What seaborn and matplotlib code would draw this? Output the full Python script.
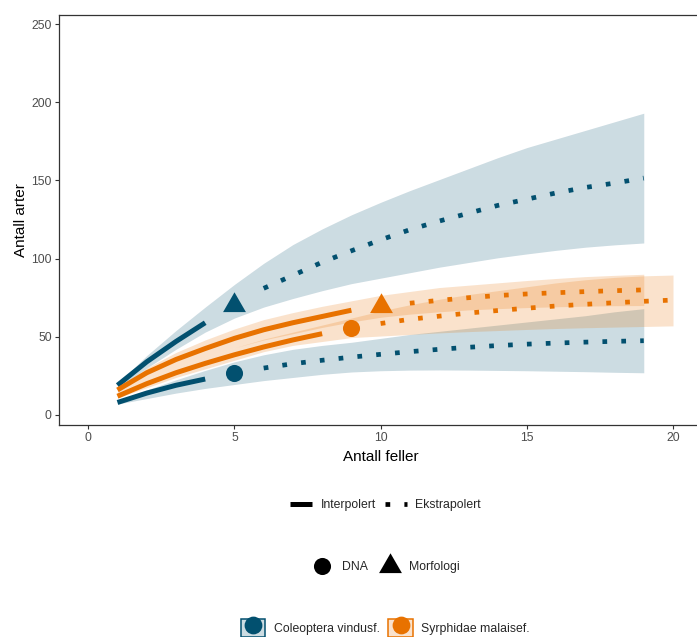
import numpy as np
import pandas as pd
import matplotlib
matplotlib.use("Agg")
import matplotlib.pyplot as plt
import seaborn as sns
from matplotlib.lines import Line2D
from matplotlib.patches import Patch
from matplotlib.path import Path
from matplotlib.legend_handler import HandlerTuple

# ---------------- data ----------------
groups = ["Coleoptera vindusf.", "Syrphidae malaisef."]
methods = ["DNA", "Morfologi"]
linetype_labels = ["Interpolert", "Ekstrapolert"]

# Coleoptera vindusf. - DNA
col_dna_x_interp = [1, 2, 3, 4]
col_dna_y_interp = [8, 14, 19, 23]
col_dna_x_ref = [5]
col_dna_y_ref = [26.6]
col_dna_x_extrap = [6, 7, 8, 9, 10, 11, 12, 13, 14, 15, 16, 17, 18, 19]
col_dna_y_extrap = [30, 32.8, 35, 37, 38.8, 40.5, 42, 43.3, 44.4, 45.3, 46, 46.6, 47.1, 47.5]
col_dna_x_band = list(range(1, 20))
col_dna_lo = [7, 10.5, 14, 17, 19.5, 22, 24, 26, 27.5, 28.3, 28.7, 28.8, 28.7, 28.5, 28.3, 28, 27.7, 27.3, 27]
col_dna_hi = [9, 16, 22.5, 28.5, 34, 38.5, 42, 44.5, 46.5, 49, 51.5, 53.5, 55.5, 57.5, 59.5, 61.5, 63.5, 66, 68]

# Coleoptera vindusf. - Morfologi
col_mor_x_interp = [1, 2, 3, 4]
col_mor_y_interp = [19, 34, 47, 59]
col_mor_x_ref = [5]
col_mor_y_ref = [70.3]
col_mor_x_extrap = [6, 7, 8, 9, 10, 11, 12, 13, 14, 15, 16, 17, 18, 19]
col_mor_y_extrap = [81, 89.3, 97.7, 105, 112, 118.5, 124, 129, 134, 138, 142, 145.5, 148.3, 151.5]
col_mor_x_band = list(range(1, 20))
col_mor_lo = [17, 30, 42, 53, 62, 69, 74.5, 79.5, 84, 87.5, 91, 94.5, 97.5, 100.5, 103, 105.3, 107.3, 108.8, 110]
col_mor_hi = [20, 38, 54, 69, 83.5, 97, 109, 119, 128, 136, 143.5, 150.5, 157.5, 164.5, 171, 176.5, 182, 187.5, 193]

# Syrphidae malaisef. - DNA
syr_dna_x_interp = [1, 2, 3, 4, 5, 6, 7, 8]
syr_dna_y_interp = [12, 20, 27, 33, 38.5, 43.5, 48, 52]
syr_dna_x_ref = [9]
syr_dna_y_ref = [55.4]
syr_dna_x_extrap = [10, 11, 12, 13, 14, 15, 16, 17, 18, 19, 20]
syr_dna_y_extrap = [58.5, 61.2, 63.2, 65.2, 66.8, 68.3, 69.7, 70.8, 71.8, 72.7, 73.5]
syr_dna_x_band = list(range(1, 21))
syr_dna_lo = [11, 17.5, 24, 29.5, 35, 40.5, 44.5, 47, 49.5, 50.5, 51.5, 52.5, 53.3, 54, 54.7, 55.3, 55.8, 56.2, 56.6, 57]
syr_dna_hi = [14, 23, 30.5, 37, 43, 48.5, 53, 57.5, 62, 66.5, 70.5, 74, 77, 79.5, 82, 84.5, 86.5, 88, 89, 89.5]

# Syrphidae malaisef. - Morfologi
syr_mor_x_interp = [1, 2, 3, 4, 5, 6, 7, 8, 9]
syr_mor_y_interp = [16, 27, 35.5, 42.5, 49, 54.5, 59, 63, 67]
syr_mor_x_ref = [10]
syr_mor_y_ref = [69.5]
syr_mor_x_extrap = [11, 12, 13, 14, 15, 16, 17, 18, 19]
syr_mor_y_extrap = [71.5, 73.3, 75, 76.4, 77.4, 78.2, 78.9, 79.5, 80]
syr_mor_x_band = list(range(1, 20))
syr_mor_lo = [14, 23, 30.5, 37, 43, 48, 52, 56, 59.5, 62.5, 64.5, 66, 67.2, 68, 68.7, 69.2, 69.6, 69.9, 70]
syr_mor_hi = [17, 30, 40, 48, 55, 61, 65.5, 69.5, 73, 76.5, 79, 81.5, 83, 84.5, 86, 87.3, 88.5, 89.3, 90]

x_ticks = [0, 5, 10, 15, 20]
y_ticks = [0, 50, 100, 150, 200, 250]

# ---------------- style ----------------
BLUE = "#02506F"
ORANGE = "#E87200"
colors = {groups[0]: BLUE, groups[1]: ORANGE}

sns.set_theme(style="white")
plt.rcParams['font.family'] = ['Liberation Sans', 'DejaVu Sans']

# ggplot-like triangle (centroid at the data point)
tri_marker = Path([(0, 1.5551), (1.3468, -0.7776), (-1.3468, -0.7776), (0, 1.5551)],
                  [Path.MOVETO, Path.LINETO, Path.LINETO, Path.CLOSEPOLY])

W, H = 697, 637
fig = plt.figure(figsize=(W / 100, H / 100), dpi=100)
ax = fig.add_axes([59 / W, (H - 425) / H, (702.25 - 59) / W, (425 - 15) / H])

series = [
    (groups[0], "DNA", col_dna_x_interp, col_dna_y_interp, col_dna_x_ref, col_dna_y_ref,
     col_dna_x_extrap, col_dna_y_extrap, col_dna_x_band, col_dna_lo, col_dna_hi),
    (groups[0], "Morfologi", col_mor_x_interp, col_mor_y_interp, col_mor_x_ref, col_mor_y_ref,
     col_mor_x_extrap, col_mor_y_extrap, col_mor_x_band, col_mor_lo, col_mor_hi),
    (groups[1], "DNA", syr_dna_x_interp, syr_dna_y_interp, syr_dna_x_ref, syr_dna_y_ref,
     syr_dna_x_extrap, syr_dna_y_extrap, syr_dna_x_band, syr_dna_lo, syr_dna_hi),
    (groups[1], "Morfologi", syr_mor_x_interp, syr_mor_y_interp, syr_mor_x_ref, syr_mor_y_ref,
     syr_mor_x_extrap, syr_mor_y_extrap, syr_mor_x_band, syr_mor_lo, syr_mor_hi),
]

# ribbons
for g, m, xi, yi, xr, yr, xe, ye, xb, lo, hi in series:
    ax.fill_between(xb, lo, hi, color=colors[g], alpha=0.2, linewidth=0, zorder=1)

# lines
for g, m, xi, yi, xr, yr, xe, ye, xb, lo, hi in series:
    sns.lineplot(x=xi, y=yi, color=colors[g], linewidth=3.6, errorbar=None,
                 solid_capstyle="butt", ax=ax, legend=False, zorder=3)
    sns.lineplot(x=xe, y=ye, color=colors[g], linewidth=3.4, errorbar=None,
                 linestyle=(0, (1, 3)), dash_capstyle="butt", ax=ax, legend=False, zorder=3)

# reference points
for g, m, xi, yi, xr, yr, xe, ye, xb, lo, hi in series:
    if m == "DNA":
        sns.scatterplot(x=xr, y=yr, color=colors[g], marker="o", s=12.3 ** 2,
                        linewidth=0, ax=ax, legend=False, zorder=4)
    else:
        sns.scatterplot(x=xr, y=yr, color=colors[g], marker=tri_marker, s=19 ** 2,
                        linewidth=0, ax=ax, legend=False, zorder=4)

ax.set_xlim(-1, 21)
ax.set_ylim(-6.4, 255.8)
ax.set_xticks(x_ticks)
ax.set_yticks(y_ticks)
ax.set_xticklabels([str(v) for v in x_ticks])
ax.set_yticklabels([str(v) for v in y_ticks])
ax.tick_params(axis="both", which="major", direction="out", length=2.75, width=0.8,
               color="#333333", labelsize=8.8, labelcolor="#4d4d4d", pad=2.5,
               bottom=True, left=True)
for sp in ax.spines.values():
    sp.set_color("#333333")
    sp.set_linewidth(0.9)
ax.grid(False)
ax.set_xlabel("Antall feller", fontsize=11, color="black", labelpad=4)
ax.set_ylabel("Antall arter", fontsize=11, color="black", labelpad=2.5)

# ---------------- legends ----------------
cx = 0.553
h1 = [Line2D([], [], color="black", lw=3.6, solid_capstyle="butt"),
      Line2D([], [], color="black", lw=3.4, linestyle=(0, (1, 3)), dash_capstyle="butt")]
leg1 = fig.legend(h1, linetype_labels, loc="center", bbox_to_anchor=(cx, (H - 505) / H),
                  ncol=2, frameon=False, fontsize=8.8, handlelength=1.8,
                  handletextpad=0.7, columnspacing=0.7)

h2 = [Line2D([], [], ls="none", marker="o", color="black", markersize=12.3, markeredgewidth=0),
      Line2D([], [], ls="none", marker=tri_marker, color="black", markersize=19, markeredgewidth=0)]
leg2 = fig.legend(h2, methods, loc="center", bbox_to_anchor=(cx, (H - 567) / H),
                  ncol=2, frameon=False, fontsize=8.8, handlelength=1.8,
                  handletextpad=0.7, columnspacing=0.9)

h3 = []
for g in groups:
    c = colors[g]
    h3.append((Patch(facecolor=matplotlib.colors.to_rgba(c, 0.2), edgecolor=c, linewidth=1.1),
               Line2D([], [], ls="none", marker="o", color=c, markersize=12.8, markeredgewidth=0)))
leg3 = fig.legend(h3, groups, loc="center", bbox_to_anchor=(cx, (H - 628) / H),
                  ncol=2, frameon=False, fontsize=8.8, handlelength=2.0, handleheight=2.0,
                  handletextpad=0.7, columnspacing=0.7,
                  handler_map={tuple: HandlerTuple(ndivide=1, pad=0)})

fig.savefig("out.png", dpi=100)
